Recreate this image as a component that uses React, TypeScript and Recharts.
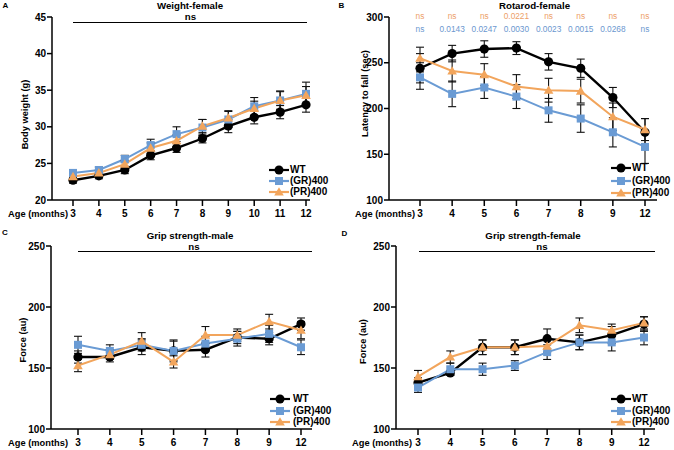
import React from 'react';
import { LineChart, Line, XAxis, YAxis, ErrorBar } from 'recharts';

const FONT = '"Liberation Sans", Arial, Helvetica, sans-serif';
const BLACK = '#000000';
const BLUE = '#6a9bd4';
const ORANGE = '#f2a55c';
const NOTE_ORANGE = '#eda067';
const NOTE_BLUE = '#6b97cf';

// ---------- Panel A: Weight-female ----------
const weightAges = ['3', '4', '5', '6', '7', '8', '9', '10', '11', '12'];
const weightWT = [22.7, 23.3, 24.1, 26.1, 27.1, 28.4, 30.1, 31.3, 32.0, 33.0];
const weightWTErr = [0.4, 0.4, 0.5, 0.6, 0.6, 0.6, 0.9, 0.9, 0.9, 1.0];
const weightGR = [23.7, 24.1, 25.6, 27.5, 29.0, 29.9, 31.0, 32.8, 33.6, 34.5];
const weightGRErr = [0.4, 0.4, 0.5, 0.8, 1.0, 1.1, 1.1, 1.2, 1.3, 1.6];
const weightPR = [23.2, 23.7, 24.9, 27.1, 28.1, 30.1, 31.2, 32.5, 33.6, 34.3];
const weightPRErr = [0.4, 0.4, 0.5, 0.7, 0.8, 0.9, 1.0, 1.0, 1.2, 1.2];
const weightTicks = [20, 25, 30, 35, 40, 45];

// ---------- Panel B: Rotarod-female ----------
const rotarodAges = ['3', '4', '5', '6', '7', '8', '9', '12'];
const rotarodWT = [244, 260, 265, 266, 251, 244, 212, 174];
const rotarodWTErr = [23, 9, 9, 7, 9, 10, 11, 15];
const rotarodGR = [234, 216, 223, 213, 198, 189, 174, 158];
const rotarodGRErr = [6, 14, 12, 13, 13, 15, 16, 18];
const rotarodPR = [255, 241, 237, 224, 220, 219, 191, 177];
const rotarodPRErr = [5, 12, 12, 13, 13, 13, 15, 12];
const rotarodTicks = [100, 150, 200, 250, 300];
const rotarodPRNotes = ['ns', 'ns', 'ns', '0.0221', 'ns', 'ns', 'ns', 'ns'];
const rotarodGRNotes = ['ns', '0.0143', '0.0247', '0.0030', '0.0023', '0.0015', '0.0268', 'ns'];

// ---------- Panel C: Grip strength-male ----------
const gripAges = ['3', '4', '5', '6', '7', '8', '9', '12'];
const gripMaleWT = [159, 159, 167, 164, 165, 175, 174, 186];
const gripMaleWTErr = [5, 4, 6, 8, 6, 5, 5, 5];
const gripMaleGR = [169, 164, 169, 164, 170, 174, 178, 167];
const gripMaleGRErr = [7, 5, 5, 9, 6, 6, 7, 6];
const gripMalePR = [152, 161, 172, 155, 177, 177, 188, 181];
const gripMalePRErr = [5, 4, 7, 5, 7, 5, 6, 7];

// ---------- Panel D: Grip strength-female ----------
const gripFemaleWT = [138, 146, 167, 167, 174, 171, 177, 186];
const gripFemaleWTErr = [4, 2, 6, 6, 8, 6, 7, 6];
const gripFemaleGR = [134, 149, 149, 152, 163, 171, 171, 175];
const gripFemaleGRErr = [4, 5, 5, 4, 6, 6, 7, 6];
const gripFemalePR = [143, 159, 167, 167, 168, 185, 181, 187];
const gripFemalePRErr = [5, 5, 6, 6, 5, 6, 5, 5];
const gripTicks = [100, 150, 200, 250];

const seriesNames = ['WT', '(GR)400', '(PR)400'];

function buildRows(ages: string[], wt: number[], wtErr: number[], gr: number[], grErr: number[], pr: number[], prErr: number[]) {
  return ages.map((age, i) => ({
    age,
    wt: wt[i],
    wtErr: wtErr[i],
    gr: gr[i],
    grErr: grErr[i],
    pr: pr[i],
    prErr: prErr[i],
  }));
}

const weightData = buildRows(weightAges, weightWT, weightWTErr, weightGR, weightGRErr, weightPR, weightPRErr);
const rotarodData = buildRows(rotarodAges, rotarodWT, rotarodWTErr, rotarodGR, rotarodGRErr, rotarodPR, rotarodPRErr);
const gripMaleData = buildRows(gripAges, gripMaleWT, gripMaleWTErr, gripMaleGR, gripMaleGRErr, gripMalePR, gripMalePRErr);
const gripFemaleData = buildRows(gripAges, gripFemaleWT, gripFemaleWTErr, gripFemaleGR, gripFemaleGRErr, gripFemalePR, gripFemalePRErr);

// ---------- markers ----------
const circleDot = (p: any) => {
  if (p.cx == null || p.cy == null) return <g key={`c${p.index}`} />;
  return <circle key={`c${p.index}`} cx={p.cx} cy={p.cy} r={4.6} fill={BLACK} />;
};
const squareDot = (p: any) => {
  if (p.cx == null || p.cy == null) return <g key={`s${p.index}`} />;
  return <rect key={`s${p.index}`} x={p.cx - 4} y={p.cy - 4} width={8} height={8} fill={BLUE} />;
};
const triangleDot = (p: any) => {
  if (p.cx == null || p.cy == null) return <g key={`t${p.index}`} />;
  const s = 4.8;
  return (
    <polygon
      key={`t${p.index}`}
      points={`${p.cx},${p.cy - s} ${p.cx + s},${p.cy + s * 0.75} ${p.cx - s},${p.cy + s * 0.75}`}
      fill={ORANGE}
    />
  );
};

const tickStyle = { fontFamily: FONT, fontSize: 10, fontWeight: 700, fill: BLACK };

type PanelProps = {
  left: number;
  top: number;
  data: any[];
  yDomain: [number, number];
  yTicks: number[];
  yLabel: string;
  ylDx: number;
  ylDy: number;
  margin: { top: number; right: number; bottom: number; left: number };
  yWidth: number;
  padding: { left: number; right: number };
  ageOffset: number;
  notes?: { pr: string[]; gr: string[] };
};

function Panel(props: PanelProps) {
  const { left, top, data, yDomain, yTicks, yLabel, ylDx, ylDy, margin, yWidth, padding, ageOffset, notes } = props;
  const renderNote = (p: any) => {
    const i = p.index;
    return (
      <g key={`n${i}`}>
        <text x={p.x} y={p.y - 1} textAnchor="middle" dominantBaseline="central" fontFamily={FONT} fontSize={8.3} fill={NOTE_ORANGE}>
          {notes ? notes.pr[i] : ''}
        </text>
        <text x={p.x} y={p.y + 12} textAnchor="middle" dominantBaseline="central" fontFamily={FONT} fontSize={8.3} fill={NOTE_BLUE}>
          {notes ? notes.gr[i] : ''}
        </text>
      </g>
    );
  };
  return (
    <div style={{ position: 'absolute', left, top, width: 337, height: 225 }}>
      <LineChart width={337} height={225} data={data} margin={margin}>
        {notes ? (
          <XAxis
            xAxisId="top"
            orientation="top"
            dataKey="age"
            type="category"
            padding={padding}
            height={1}
            axisLine={false}
            tickLine={false}
            tickSize={0}
            tickMargin={0}
            interval={0}
            tick={renderNote}
          />
        ) : null}
        <XAxis
          dataKey="age"
          type="category"
          padding={padding}
          height={20}
          interval={0}
          tick={tickStyle}
          tickSize={6}
          tickMargin={4}
          axisLine={{ stroke: BLACK, strokeWidth: 1.5 }}
          tickLine={{ stroke: BLACK, strokeWidth: 1.5 }}
          label={{
            value: 'Age (months)',
            position: 'left',
            offset: ageOffset,
            dy: 4,
            style: { fontFamily: FONT, fontSize: 9.3, fontWeight: 700, fill: BLACK },
          }}
        />
        <YAxis
          type="number"
          domain={yDomain}
          ticks={yTicks}
          interval={0}
          width={yWidth}
          tick={tickStyle}
          tickSize={5}
          tickMargin={1}
          axisLine={{ stroke: BLACK, strokeWidth: 1.5 }}
          tickLine={{ stroke: BLACK, strokeWidth: 1.5 }}
          label={{
            value: yLabel,
            angle: -90,
            position: 'center',
            dx: ylDx,
            dy: ylDy,
            style: { fontFamily: FONT, fontSize: 9.3, fontWeight: 700, fill: BLACK, textAnchor: 'middle' },
          }}
        />
        <Line dataKey="wt" name={seriesNames[0]} stroke={BLACK} strokeWidth={2.4} dot={circleDot} activeDot={false} isAnimationActive={false}>
          <ErrorBar dataKey="wtErr" width={4} stroke="#111" strokeWidth={1.1} direction="y" isAnimationActive={false} />
        </Line>
        <Line dataKey="gr" name={seriesNames[1]} stroke={BLUE} strokeWidth={2} dot={squareDot} activeDot={false} isAnimationActive={false}>
          <ErrorBar dataKey="grErr" width={4} stroke="#111" strokeWidth={1.1} direction="y" isAnimationActive={false} />
        </Line>
        <Line dataKey="pr" name={seriesNames[2]} stroke={ORANGE} strokeWidth={2} dot={triangleDot} activeDot={false} isAnimationActive={false}>
          <ErrorBar dataKey="prErr" width={4} stroke="#111" strokeWidth={1.1} direction="y" isAnimationActive={false} />
        </Line>
      </LineChart>
    </div>
  );
}

function Txt({ x, y, size, bold, color, children }: any) {
  return (
    <div
      style={{
        position: 'absolute',
        left: x,
        top: y,
        transform: 'translate(-50%, -50%)',
        fontFamily: FONT,
        fontSize: size,
        fontWeight: bold ? 700 : 400,
        color: color || BLACK,
        lineHeight: 1,
        whiteSpace: 'nowrap',
      }}
    >
      {children}
    </div>
  );
}

function HLine({ x1, x2, y }: any) {
  return <div style={{ position: 'absolute', left: x1, top: y - 0.75, width: x2 - x1, height: 1.5, background: BLACK }} />;
}

function LegendBox({ x, y, gap, textX }: any) {
  const colors = [BLACK, BLUE, ORANGE];
  return (
    <>
      {seriesNames.map((name, i) => {
        const cy = y + i * gap;
        const c = colors[i];
        return (
          <React.Fragment key={name}>
            <svg style={{ position: 'absolute', left: x, top: cy - 6 }} width={20} height={12}>
              <line x1={0} y1={6} x2={20} y2={6} stroke={c} strokeWidth={2.2} />
              {i === 0 ? <circle cx={10} cy={6} r={4.5} fill={c} /> : null}
              {i === 1 ? <rect x={6} y={2} width={8} height={8} fill={c} /> : null}
              {i === 2 ? <polygon points="10,1.2 14.8,9.6 5.2,9.6" fill={c} /> : null}
            </svg>
            <div
              style={{
                position: 'absolute',
                left: textX,
                top: cy,
                transform: 'translateY(-50%)',
                fontFamily: FONT,
                fontSize: 10,
                fontWeight: 700,
                lineHeight: 1,
                whiteSpace: 'nowrap',
              }}
            >
              {name}
            </div>
          </React.Fragment>
        );
      })}
    </>
  );
}

export default function App() {
  return (
    <div style={{ position: 'absolute', left: 0, top: 0, width: 674, height: 450, background: '#fff', overflow: 'hidden' }}>
      <Panel
        left={0}
        top={0}
        data={weightData}
        yDomain={[20, 45]}
        yTicks={weightTicks}
        yLabel="Body weight (g)"
        ylDx={-1}
        ylDy={6}
        margin={{ top: 17, right: 27, bottom: 5, left: 0 }}
        yWidth={52}
        padding={{ left: 21, right: 4 }}
        ageOffset={-16}
      />
      <Panel
        left={337}
        top={0}
        data={rotarodData}
        yDomain={[100, 300]}
        yTicks={rotarodTicks}
        yLabel="Latency to fall (sec)"
        ylDx={2}
        ylDy={-15}
        margin={{ top: 16, right: 17, bottom: 5, left: 0 }}
        yWidth={52}
        padding={{ left: 31, right: 12 }}
        ageOffset={-26}
        notes={{ pr: rotarodPRNotes, gr: rotarodGRNotes }}
      />
      <Panel
        left={0}
        top={225}
        data={gripMaleData}
        yDomain={[100, 250]}
        yTicks={gripTicks}
        yLabel="Force (au)"
        ylDx={-2.5}
        ylDy={2.5}
        margin={{ top: 21, right: 25, bottom: 1, left: 0 }}
        yWidth={51}
        padding={{ left: 27, right: 11 }}
        ageOffset={-17}
      />
      <Panel
        left={337}
        top={225}
        data={gripFemaleData}
        yDomain={[100, 250]}
        yTicks={gripTicks}
        yLabel="Force (au)"
        ylDx={-4}
        ylDy={4}
        margin={{ top: 21, right: 19, bottom: 1, left: 0 }}
        yWidth={59}
        padding={{ left: 22, right: 11 }}
        ageOffset={-16}
      />

      {/* panel letters */}
      <Txt x={5.5} y={5.5} size={8} bold>A</Txt>
      <Txt x={341.5} y={5.5} size={8} bold>B</Txt>
      <Txt x={5} y={233} size={8} bold>C</Txt>
      <Txt x={344.5} y={234} size={8} bold>D</Txt>

      {/* titles */}
      <Txt x={190} y={6} size={9.7} bold>Weight-female</Txt>
      <Txt x={190.5} y={17} size={9.7} bold>ns</Txt>
      <HLine x1={73} x2={307} y={22.5} />

      <Txt x={534.5} y={5.5} size={9.7} bold>Rotarod-female</Txt>

      <Txt x={190} y={236} size={9.7} bold>Grip strength-male</Txt>
      <Txt x={194} y={247} size={9.7} bold>ns</Txt>
      <HLine x1={78} x2={312} y={251.5} />

      <Txt x={533} y={236} size={9.7} bold>Grip strength-female</Txt>
      <Txt x={542} y={247} size={9.7} bold>ns</Txt>
      <HLine x1={419} x2={655} y={251.3} />

      {/* legends */}
      <LegendBox x={269} y={170} gap={11} textX={290} />
      <LegendBox x={611} y={168} gap={12.5} textX={632} />
      <LegendBox x={270} y={399} gap={11.5} textX={293} />
      <LegendBox x={611} y={399} gap={11.5} textX={632} />
    </div>
  );
}
